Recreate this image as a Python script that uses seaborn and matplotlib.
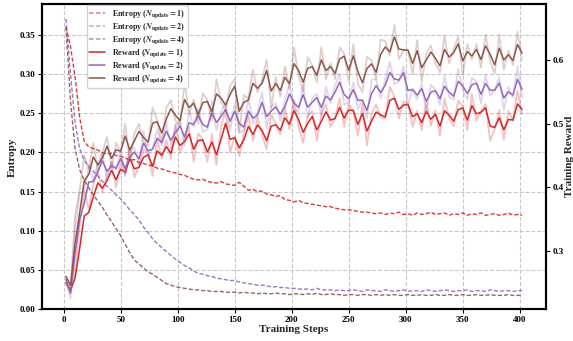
import numpy as np
import pandas as pd
import matplotlib
matplotlib.use("Agg")
import matplotlib.pyplot as plt
import seaborn as sns
from matplotlib.ticker import MultipleLocator

steps = np.arange(2, 403, 4)

entropy_n1 = [0.360, 0.335, 0.296, 0.245, 0.214, 0.207, 0.205, 0.203, 0.200, 0.198,
              0.199, 0.196, 0.195, 0.193, 0.190, 0.191, 0.187, 0.186, 0.184, 0.183,
              0.180, 0.179, 0.177, 0.175, 0.174, 0.172, 0.171, 0.168, 0.166, 0.165,
              0.166, 0.163, 0.162, 0.161, 0.163, 0.160, 0.159, 0.158, 0.162, 0.157,
              0.152, 0.153, 0.150, 0.151, 0.147, 0.146, 0.144, 0.145, 0.140, 0.139,
              0.137, 0.139, 0.136, 0.135, 0.134, 0.133, 0.132, 0.131, 0.131, 0.129,
              0.128, 0.127, 0.127, 0.126, 0.125, 0.124, 0.124, 0.123, 0.122, 0.123,
              0.121, 0.123, 0.122, 0.124, 0.121, 0.122, 0.120, 0.123, 0.121, 0.122,
              0.124, 0.121, 0.122, 0.123, 0.120, 0.122, 0.121, 0.123, 0.120, 0.122,
              0.121, 0.123, 0.120, 0.121, 0.122, 0.120, 0.121, 0.123, 0.120, 0.121,
              0.120]
entropy_n2 = [0.370, 0.300, 0.238, 0.205, 0.190, 0.182, 0.176, 0.170, 0.163, 0.157,
              0.152, 0.146, 0.141, 0.134, 0.127, 0.121, 0.114, 0.105, 0.098, 0.090,
              0.084, 0.079, 0.074, 0.069, 0.064, 0.060, 0.056, 0.053, 0.049, 0.046,
              0.045, 0.043, 0.042, 0.040, 0.039, 0.038, 0.037, 0.037, 0.035, 0.034,
              0.033, 0.032, 0.031, 0.031, 0.030, 0.029, 0.029, 0.028, 0.028, 0.027,
              0.027, 0.026, 0.026, 0.026, 0.025, 0.027, 0.025, 0.025, 0.025, 0.024,
              0.025, 0.024, 0.024, 0.025, 0.024, 0.023, 0.025, 0.024, 0.024, 0.023,
              0.025, 0.024, 0.023, 0.024, 0.025, 0.023, 0.024, 0.024, 0.023, 0.025,
              0.024, 0.023, 0.024, 0.025, 0.024, 0.023, 0.024, 0.024, 0.025, 0.023,
              0.024, 0.024, 0.023, 0.025, 0.024, 0.023, 0.024, 0.024, 0.023, 0.024,
              0.024]
entropy_n4 = [0.360, 0.265, 0.205, 0.178, 0.165, 0.155, 0.146, 0.138, 0.130, 0.120,
              0.112, 0.103, 0.094, 0.083, 0.072, 0.063, 0.058, 0.053, 0.048, 0.045,
              0.041, 0.037, 0.033, 0.031, 0.029, 0.028, 0.027, 0.026, 0.025, 0.025,
              0.024, 0.024, 0.023, 0.023, 0.023, 0.022, 0.022, 0.022, 0.021, 0.022,
              0.021, 0.021, 0.020, 0.021, 0.020, 0.020, 0.021, 0.020, 0.020, 0.019,
              0.020, 0.020, 0.019, 0.020, 0.019, 0.021, 0.019, 0.019, 0.020, 0.019,
              0.019, 0.018, 0.019, 0.019, 0.018, 0.019, 0.019, 0.018, 0.019, 0.018,
              0.019, 0.018, 0.019, 0.018, 0.018, 0.019, 0.018, 0.018, 0.019, 0.018,
              0.018, 0.019, 0.018, 0.018, 0.019, 0.018, 0.018, 0.019, 0.018, 0.018,
              0.019, 0.018, 0.018, 0.019, 0.018, 0.018, 0.018, 0.019, 0.018, 0.018,
              0.018]

reward_n1 = [0.250, 0.233, 0.270, 0.338, 0.395, 0.365, 0.405, 0.425, 0.392, 0.420,
             0.440, 0.400, 0.442, 0.420, 0.463, 0.416, 0.433, 0.460, 0.455, 0.418,
             0.477, 0.445, 0.475, 0.445, 0.500, 0.455, 0.477, 0.494, 0.440, 0.485,
             0.475, 0.440, 0.484, 0.435, 0.495, 0.521, 0.455, 0.480, 0.449, 0.485,
             0.513, 0.473, 0.510, 0.482, 0.460, 0.515, 0.500, 0.483, 0.525, 0.491,
             0.538, 0.495, 0.470, 0.512, 0.520, 0.473, 0.515, 0.531, 0.495, 0.510,
             0.540, 0.495, 0.532, 0.520, 0.481, 0.530, 0.466, 0.517, 0.530, 0.510,
             0.508, 0.558, 0.543, 0.508, 0.535, 0.531, 0.495, 0.520, 0.490, 0.534,
             0.497, 0.521, 0.481, 0.540, 0.508, 0.496, 0.537, 0.527, 0.490, 0.547,
             0.505, 0.520, 0.531, 0.473, 0.492, 0.522, 0.475, 0.520, 0.505, 0.552,
             0.515]
reward_n2 = [0.255, 0.225, 0.335, 0.390, 0.395, 0.435, 0.410, 0.438, 0.455, 0.412,
             0.440, 0.427, 0.458, 0.417, 0.462, 0.462, 0.436, 0.489, 0.448, 0.462,
             0.491, 0.465, 0.503, 0.462, 0.496, 0.505, 0.465, 0.520, 0.496, 0.525,
             0.487, 0.491, 0.535, 0.490, 0.519, 0.531, 0.489, 0.532, 0.485, 0.490,
             0.540, 0.500, 0.517, 0.550, 0.493, 0.527, 0.532, 0.505, 0.537, 0.563,
             0.521, 0.520, 0.562, 0.510, 0.540, 0.547, 0.513, 0.558, 0.532, 0.560,
             0.578, 0.530, 0.534, 0.565, 0.523, 0.537, 0.508, 0.569, 0.570, 0.540,
             0.570, 0.597, 0.562, 0.567, 0.590, 0.529, 0.555, 0.538, 0.563, 0.519,
             0.561, 0.554, 0.529, 0.575, 0.542, 0.538, 0.586, 0.553, 0.538, 0.572,
             0.566, 0.532, 0.577, 0.544, 0.553, 0.573, 0.521, 0.558, 0.541, 0.590,
             0.541]
reward_n4 = [0.260, 0.240, 0.355, 0.395, 0.450, 0.428, 0.470, 0.425, 0.455, 0.480,
             0.430, 0.470, 0.455, 0.500, 0.440, 0.485, 0.500, 0.471, 0.465, 0.525,
             0.505, 0.471, 0.525, 0.537, 0.505, 0.498, 0.565, 0.515, 0.538, 0.500,
             0.548, 0.537, 0.505, 0.570, 0.535, 0.520, 0.560, 0.570, 0.487, 0.545,
             0.540, 0.585, 0.549, 0.570, 0.600, 0.525, 0.573, 0.543, 0.590, 0.555,
             0.620, 0.575, 0.550, 0.605, 0.592, 0.565, 0.620, 0.570, 0.595, 0.570,
             0.620, 0.610, 0.566, 0.625, 0.562, 0.550, 0.605, 0.600, 0.570, 0.632,
             0.630, 0.607, 0.655, 0.602, 0.615, 0.615, 0.578, 0.631, 0.566, 0.610,
             0.623, 0.595, 0.581, 0.638, 0.595, 0.617, 0.637, 0.577, 0.625, 0.601,
             0.625, 0.588, 0.640, 0.598, 0.579, 0.640, 0.585, 0.615, 0.592, 0.645,
             0.600]

labels_n = ["1", "2", "4"]
colors = ["#d62728", "#9467bd", "#8c564b"]

sns.set_theme(style="whitegrid")
plt.rcParams["font.family"] = ["Liberation Serif", "DejaVu Serif"]
plt.rcParams["font.weight"] = "bold"
plt.rcParams["mathtext.fontset"] = "stix"

fig, ax = plt.subplots(figsize=(5.73, 3.41), dpi=100)
fig.subplots_adjust(left=0.0733, right=0.9529, top=0.988, bottom=0.0924)
ax2 = ax.twinx()

handles = []
for ent, n, c in zip([entropy_n1, entropy_n2, entropy_n4], labels_n, colors):
    df = pd.DataFrame({"step": steps, "val": ent})
    sns.lineplot(data=df, x="step", y="val", ax=ax, color=c, linestyle=(0, (3, 1.5)),
                 linewidth=1.0, alpha=0.9, legend=False)
    h, = ax.plot([], [], color=c, linestyle=(0, (3, 1.5)), linewidth=1.1, alpha=0.6,
                 label=r"Entropy ($\mathbfit{N}_{\mathbf{update}}\mathbf{=%s}$)" % n)
    handles.append(h)

for rew, n, c in zip([reward_n1, reward_n2, reward_n4], labels_n, colors):
    df = pd.DataFrame({"step": steps, "val": rew})
    df["smooth"] = df["val"].ewm(alpha=0.55).mean()
    sns.lineplot(data=df, x="step", y="val", ax=ax2, color=c, linewidth=1.3,
                 alpha=0.28, legend=False)
    sns.lineplot(data=df, x="step", y="smooth", ax=ax2, color=c, linewidth=1.1,
                 legend=False)
    h, = ax2.plot([], [], color=c, linewidth=1.1,
                  label=r"Reward ($\mathbfit{N}_{\mathbf{update}}\mathbf{=%s}$)" % n)
    handles.append(h)

ax.set_xlim(-19, 423)
ax.set_ylim(0, 0.389)
ax2.set_ylim(0.208, 0.688)
ax.xaxis.set_major_locator(MultipleLocator(50))
ax.yaxis.set_major_locator(MultipleLocator(0.05))
ax2.yaxis.set_major_locator(MultipleLocator(0.1))

ax.grid(True, linestyle="--", color="#c8c8c8", linewidth=0.8)
ax2.grid(False)

ax.set_xlabel("Training Steps", fontsize=8, fontweight="bold", labelpad=1)
ax.set_ylabel("Entropy", fontsize=8, fontweight="bold", labelpad=2)
ax2.set_ylabel("Training Reward", fontsize=8, fontweight="bold", labelpad=1)

for a in (ax, ax2):
    for s in a.spines.values():
        s.set_color("black")
        s.set_linewidth(1.5)
    a.tick_params(axis="both", labelsize=6.5, length=3, width=0.8, pad=1.5, colors="black")
    for lab in a.get_xticklabels() + a.get_yticklabels():
        lab.set_fontweight("bold")
ax.tick_params(axis="x", bottom=True)
ax.tick_params(axis="y", left=True)
ax2.tick_params(axis="y", right=True)

leg = ax2.legend(handles=handles, loc="upper left", bbox_to_anchor=(0.086, 1.0),
                 borderaxespad=0.15, fontsize=5.8, frameon=True, framealpha=0.85,
                 handlelength=2.0, handletextpad=0.8, labelspacing=0.15, borderpad=0.35)
leg.get_frame().set_edgecolor("#cccccc")
for t in leg.get_texts():
    t.set_fontweight("bold")

fig.savefig("out.png", dpi=100)
